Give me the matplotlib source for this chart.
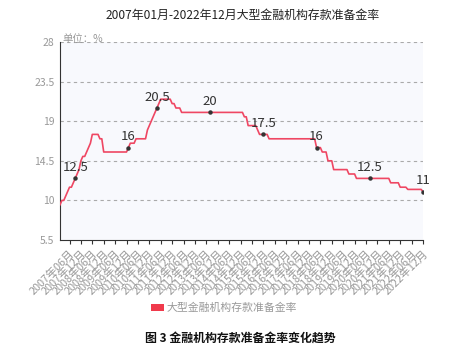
import numpy as np
import matplotlib
matplotlib.use('Agg')
import matplotlib.pyplot as plt
from matplotlib.patches import Patch

plt.rcParams['font.family'] = ['Noto Sans CJK SC', 'DejaVu Sans']

#%% data: month-end reserve ratio of large institutions, 2007-01 .. 2022-12
rate_2007 = [9.5, 10, 10, 10.5, 11, 11.5, 11.5, 12, 12.5, 13, 13.5, 14.5]
rate_2008 = [15, 15, 15.5, 16, 16.5, 17.5, 17.5, 17.5, 17.5, 17, 17, 15.5]
rate_2009 = [15.5] * 12
rate_2010 = [16, 16.5, 16.5, 16.5, 17, 17, 17, 17, 17, 17, 18, 18.5]
rate_2011 = [19, 19.5, 20, 20.5, 21, 21.5, 21.5, 21.5, 21.5, 21.5, 21.5, 21]
rate_2012 = [21, 20.5, 20.5, 20.5, 20, 20, 20, 20, 20, 20, 20, 20]
rate_2013 = [20] * 12
rate_2014 = [20] * 12
rate_2015 = [20, 19.5, 19.5, 18.5, 18.5, 18.5, 18.5, 18.5, 18, 17.5, 17.5, 17.5]
rate_2016 = [17.5, 17.5, 17, 17, 17, 17, 17, 17, 17, 17, 17, 17]
rate_2017 = [17] * 12
rate_2018 = [17, 17, 17, 16, 16, 16, 15.5, 15.5, 15.5, 14.5, 14.5, 14.5]
rate_2019 = [13.5, 13.5, 13.5, 13.5, 13.5, 13.5, 13.5, 13.5, 13, 13, 13, 13]
rate_2020 = [12.5] * 12
rate_2021 = [12.5, 12.5, 12.5, 12.5, 12.5, 12.5, 12, 12, 12, 12, 12, 11.5]
rate_2022 = [11.5, 11.5, 11.5, 11.25, 11.25, 11.25, 11.25, 11.25, 11.25, 11.25, 11.25, 11]

rates = (rate_2007 + rate_2008 + rate_2009 + rate_2010 + rate_2011 + rate_2012
         + rate_2013 + rate_2014 + rate_2015 + rate_2016 + rate_2017 + rate_2018
         + rate_2019 + rate_2020 + rate_2021 + rate_2022)
months = ['{}年{:02d}月'.format(y, m) for y in range(2007, 2023) for m in range(1, 13)]

# months that carry a value label
label_months = ['2007年09月', '2010年01月', '2011年04月', '2013年08月',
                '2015年12月', '2018年04月', '2020年08月', '2022年12月']

y_ticks = [5.5, 10, 14.5, 19, 23.5, 28]

#%% plot
line_color = '#ef4763'
grey = '#999999'

fig = plt.figure(figsize=(4.58, 3.5), dpi=100)
ax = fig.add_axes([60 / 458, 1 - 240 / 350, 363 / 458, 198 / 350])
ax.set_facecolor('#f8f9fd')

x = np.arange(len(rates))
ax.plot(x, rates, color=line_color, lw=1.2, zorder=3)

for m in label_months:
    i = months.index(m)
    v = rates[i]
    ax.plot(i, v, 'o', ms=2.2, color='#333333', zorder=4)
    ax.annotate('{:g}'.format(v), (i, v), xytext=(0, 3), textcoords='offset points',
                ha='center', va='bottom', fontsize=9.5, color='#333333', zorder=5)

ax.set_xlim(0, len(rates) - 1)
ax.set_ylim(5.5, 28)
ax.set_yticks(y_ticks)
ax.set_yticklabels(['{:g}'.format(t) for t in y_ticks], color=grey, fontsize=7.5)
ax.tick_params(axis='y', length=0, pad=4)

tick_idx = list(range(5, len(months), 6))
ax.set_xticks(tick_idx)
ax.set_xticklabels([months[i] for i in tick_idx], rotation=45, ha='right',
                   va='top', rotation_mode='anchor', fontsize=7.8, color=grey)
ax.tick_params(axis='x', length=3, width=0.8, color='#333333', pad=3)

for t in y_ticks[1:]:
    ax.axhline(t, color='#aaaaaa', lw=0.8, ls=(0, (3, 3)), zorder=1)

for s in ['top', 'right']:
    ax.spines[s].set_visible(False)
ax.spines['left'].set_color('#333333')
ax.spines['bottom'].set_color('#333333')

ax.annotate('单位：%', (0, 28), xytext=(2, 2), textcoords='offset points',
            fontsize=7.5, color=grey, ha='left', va='center', annotation_clip=False)

fig.text(243 / 458, 1 - 15 / 350, '2007年01月-2022年12月大型金融机构存款准备金率',
         ha='center', va='center', fontsize=8.6, color='#222222')

handle = Patch(facecolor='#f03a4c', edgecolor='none')
fig.legend([handle], ['大型金融机构存款准备金率'], loc='center',
           bbox_to_anchor=(224 / 458, 1 - 308 / 350), frameon=False,
           fontsize=7.8, labelcolor=grey, handlelength=1.2, handleheight=0.6,
           handletextpad=0.3)

fig.text(240 / 458, 1 - 338 / 350, '图 3 金融机构存款准备金率变化趋势',
         ha='center', va='center', fontsize=8.6, fontweight='bold', color='#111111')

fig.savefig('out.png', dpi=100)
